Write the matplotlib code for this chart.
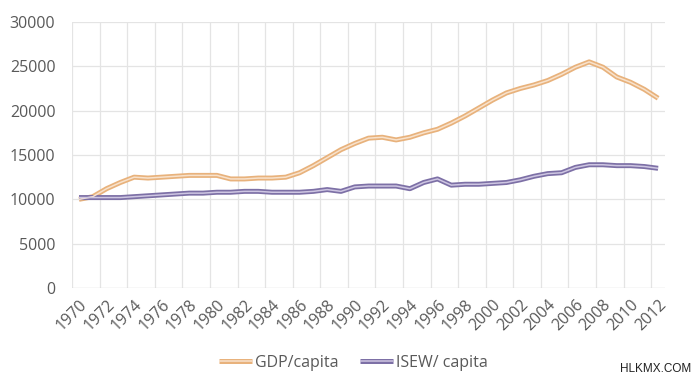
import matplotlib
matplotlib.use("Agg")
import matplotlib.pyplot as plt
import numpy as np
from matplotlib.lines import Line2D
from matplotlib.legend_handler import HandlerBase

years = list(range(1970, 2013))
gdp = [10000, 10300, 11200, 11900, 12500, 12400, 12500, 12600, 12700, 12700,
       12700, 12300, 12300, 12400, 12400, 12500, 13000, 13800, 14700, 15600,
       16300, 16900, 17000, 16700, 17000, 17500, 17900, 18600, 19400, 20300,
       21200, 22000, 22500, 22900, 23400, 24100, 24900, 25500, 24900, 23800,
       23200, 22400, 21400]
isew = [10200, 10200, 10200, 10200, 10300, 10400, 10500, 10600, 10700, 10700,
        10800, 10800, 10900, 10900, 10800, 10800, 10800, 10900, 11100, 10900,
        11400, 11500, 11500, 11500, 11200, 11900, 12300, 11600, 11700, 11700,
        11800, 11900, 12200, 12600, 12900, 13000, 13600, 13900, 13900, 13800,
        13800, 13700, 13500]
tick_years = list(range(1970, 2013, 2))
yticks = [0, 5000, 10000, 15000, 20000, 25000, 30000]

plt.rcParams['font.family'] = ['Open Sans', 'DejaVu Sans']

fig = plt.figure(figsize=(7, 3.83), dpi=100)
ax = fig.add_axes([0.103, 0.248, 0.847, 0.6946])

grid_c = '#E4E4E4'
ax.set_xlim(1969.5, 2012.5)
ax.set_ylim(0, 30000)
for yv in yticks[1:]:
    ax.axhline(yv, color=grid_c, lw=0.9, zorder=0)
for xv in np.arange(1969.5, 2012, 2):
    ax.axvline(xv, color=grid_c, lw=0.9, zorder=0)

for s in ax.spines.values():
    s.set_visible(False)
ax.axhline(0, color='#D9D9D9', lw=1.0, zorder=1)

orange, orange_in = '#E8B27C', '#F8E2CC'
purple, purple_in = '#7D70A6', '#CEC6E2'

ax.plot(years, gdp, color=orange, lw=3.6, solid_capstyle='butt', zorder=3)
ax.plot(years, gdp, color=orange_in, lw=1.1, solid_capstyle='butt', zorder=4)
ax.plot(years, isew, color=purple, lw=3.6, solid_capstyle='butt', zorder=3)
ax.plot(years, isew, color=purple_in, lw=1.1, solid_capstyle='butt', zorder=4)

ax.set_yticks(yticks)
ax.set_yticklabels([str(v) for v in yticks])
ax.set_xticks(tick_years)
ax.set_xticklabels([str(y) for y in tick_years], rotation=45, ha='right',
                   va='top', rotation_mode='anchor')
ax.tick_params(axis='both', length=0, labelsize=11.5, colors='#595959')
ax.tick_params(axis='y', pad=12)
ax.tick_params(axis='x', pad=6)


class DoubleLine(HandlerBase):
    def __init__(self, outer, inner):
        super().__init__()
        self.outer, self.inner = outer, inner

    def create_artists(self, legend, orig, xd, yd, w, h, fs, trans):
        y = h / 2 - yd
        l1 = Line2D([-xd, -xd + w], [y, y], color=self.outer, lw=3.6,
                    transform=trans, solid_capstyle='butt')
        l2 = Line2D([-xd, -xd + w], [y, y], color=self.inner, lw=1.1,
                    transform=trans, solid_capstyle='butt')
        return [l1, l2]


h1 = Line2D([], [], color=orange)
h2 = Line2D([], [], color=purple)
leg = fig.legend([h1, h2], ['GDP/capita', 'ISEW/ capita'],
                 handler_map={h1: DoubleLine(orange, orange_in),
                              h2: DoubleLine(purple, purple_in)},
                 loc='center', bbox_to_anchor=(0.505, 0.053), ncol=2, frameon=False,
                 fontsize=11.5, handlelength=2.1, handletextpad=0.2, columnspacing=1.3)
for t in leg.get_texts():
    t.set_color('#595959')

fig.text(0.988, 0.022, 'HLKMX.COM', ha='right', va='bottom', fontsize=8.5,
         color='#222222', family=['Liberation Sans', 'DejaVu Sans'])

fig.savefig('out.png', dpi=100, facecolor='white')
